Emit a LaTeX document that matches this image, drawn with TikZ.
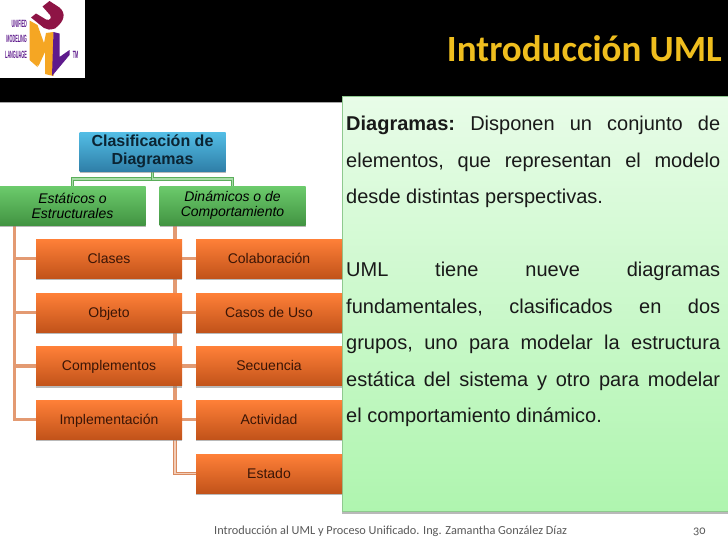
\documentclass[tikz,border=0pt]{standalone}
\usepackage{fontspec}
\usepackage{tikz}
\usetikzlibrary{backgrounds,shadows}
\setmainfont{Liberation Sans}
\newfontfamily\titlefont{Carlito}
\newfontfamily\footfont[Numbers=OldStyle]{Carlito}
\definecolor{tituloamarillo}{HTML}{EFBE1E}
\definecolor{conectornaranja}{HTML}{E39A72}
\definecolor{conectoroscuro}{HTML}{D98A5E}
\definecolor{conectorclaro}{HTML}{F2CDB8}
\definecolor{conectorverde}{HTML}{5AAE5A}
\definecolor{conectorvclaro}{HTML}{A8DCA8}
\definecolor{textoazul}{HTML}{0B2433}
\definecolor{textonaranja}{HTML}{3A1506}
\definecolor{azularriba}{HTML}{53BEE6}
\definecolor{azulabajo}{HTML}{2F7FA8}
\definecolor{verdearriba}{HTML}{6CCB6C}
\definecolor{verdeabajo}{HTML}{429442}
\definecolor{naranjaarriba}{HTML}{FF8038}
\definecolor{naranjaabajo}{HTML}{C2531A}
\definecolor{panelarriba}{HTML}{E8FCE8}
\definecolor{panelabajo}{HTML}{AFF5AF}
\definecolor{panelborde}{HTML}{8FC98F}
\definecolor{logonaranja}{HTML}{F5A623}
\definecolor{logovioleta}{HTML}{5E1A8C}
\definecolor{logogranate}{HTML}{8E1445}
\tikzset{
    caja/.style={rectangle, inner sep=0pt, minimum width=146pt, minimum height=39pt, align=center,
        drop shadow={shadow xshift=0pt, shadow yshift=-2pt, opacity=0.55}},
    cajaazul/.style={caja, top color=azularriba, bottom color=azulabajo, text=textoazul,
        font=\fontsize{16}{17.6}\selectfont\bfseries},
    cajaverde/.style={caja, top color=verdearriba, bottom color=verdeabajo, text=black,
        font=\fontsize{14}{15}\selectfont\itshape},
    cajanaranja/.style={caja, top color=naranjaarriba, bottom color=naranjaabajo, text=textonaranja,
        text height=11pt, text depth=2pt, font=\fontsize{14}{16}\selectfont},
    conector/.style={draw=conectornaranja, line width=3.6pt},
    conectordoble/.style={draw=conectoroscuro, line width=1pt, double=conectorclaro, double distance=1.6pt},
    conectorv/.style={draw=conectorverde, line width=1.1pt, double=conectorvclaro, double distance=1.4pt},
    logotexto/.style={inner sep=0pt, text=logovioleta, transform shape, xscale=0.38, yscale=1.05,
        font=\fontsize{10}{11}\selectfont\bfseries},
    pietexto/.style={anchor=base west, inner sep=0pt, text=black!65, font=\fontsize{12.3}{14}\selectfont\footfont},
}
\begin{document}
\begin{tikzpicture}[x=1pt,y=-1pt]
    \useasboundingbox (0,0) rectangle (728,546);
    \begin{pgfonlayer}{background}
        \fill[white] (0,0) rectangle (728,546);
    \end{pgfonlayer}

    % Cabecera
    \fill[black] (0,0) rectangle (728,102);
    \draw[gray!70, line width=0.6pt] (0,102.3) -- (342,102.3);
    \node[anchor=base east, inner sep=0pt, text=tituloamarillo, font=\fontsize{37}{40}\selectfont\titlefont\bfseries]
        (titulo) at (722,61) {Introducción UML};

    % Logo
    \fill[white] (0,0) rectangle (85,78);
    \fill[logonaranja] (29.5,20.5) -- (37.5,25) -- (44,43) -- (46,33) -- (53.5,32) -- (53.5,76) -- (45,74)
        -- (45,52) -- (38.5,66) -- (37.5,64) -- (37.5,67) -- (29.5,60) -- cycle;
    \fill[logovioleta] (53.5,32) -- (59.5,33.5) -- (59.5,57) -- (69.5,50) -- (69.5,55) -- (52,76) -- cycle;
    \fill[logogranate] (31,17.5) -- (36,13.5) -- (46,19.5) .. controls (50,21) and (52,18) .. (50,15)
        -- (42.5,6.5) -- (49.5,1) -- (59.5,7.5) .. controls (66,13) and (65,21) .. (55,28.5)
        .. controls (50,30) and (47,30) .. (44,28) -- cycle;
    \node[logotexto, anchor=east] (unified) at (27,24) {UNIFIED};
    \node[logotexto, anchor=east] (modeling) at (27,39) {MODELING};
    \node[logotexto, anchor=east] (language) at (27,55) {LANGUAGE};
    \node[logotexto, anchor=center] (marca) at (75.5,55) {TM};

    % Panel de texto
    \path[top color=panelarriba, bottom color=panelabajo, draw=panelborde, line width=0.5pt,
        drop shadow={shadow xshift=0pt, shadow yshift=-2.5pt, opacity=0.55}]
        (342,96.5) rectangle (729,511);
    \node[anchor=north west, inner sep=0pt, text width=374pt, align=justify, text=black!90,
        font=\fontsize{20}{36.5}\selectfont\frenchspacing] (texto) at (346,116) {%
        \textbf{Diagramas:} Disponen un conjunto de\linebreak
        elementos, que representan el modelo\linebreak
        desde distintas perspectivas.\par\vspace{36.5pt}
        UML tiene nueve diagramas\linebreak
        fundamentales, clasificados en dos\linebreak
        grupos, uno para modelar la estructura\linebreak
        estática del sistema y otro para modelar\linebreak
        el comportamiento dinámico.\par};

    % Clasificacion
    \node[cajaazul] (clasificacion) at (152.5,151.5) {Clasificación de\\Diagramas};
    \node[cajaverde] (estaticos) at (72.5,205.5) {Estáticos o\\Estructurales};
    \node[cajaverde] (dinamicos) at (232.5,205.5) {Dinámicos o de\\Comportamiento};

    % Estaticos
    \node[cajanaranja] (clases) at (109,258.5) {Clases};
    \node[cajanaranja] (objeto) at (109,312.5) {Objeto};
    \node[cajanaranja] (complementos) at (109,366) {Complementos};
    \node[cajanaranja] (implementacion) at (109,419.5) {Implementación};

    % Dinamicos
    \node[cajanaranja] (colaboracion) at (269,258.5) {Colaboración};
    \node[cajanaranja] (casos) at (269,312.5) {Casos de Uso};
    \node[cajanaranja] (secuencia) at (269,366) {Secuencia};
    \node[cajanaranja] (actividad) at (269,419.5) {Actividad};
    \node[cajanaranja] (estado) at (269,473.5) {Estado};

    % Conectores
    \coordinate (cruce) at (152.5,179);
    \coordinate (troncoe) at (14.5,225);
    \coordinate (troncod) at (175,225);
    \coordinate (troncof) at (175,439);
    \begin{pgfonlayer}{background}
        \draw[conectorv] (clasificacion.south) -- (cruce) -| (estaticos.north);
        \draw[conectorv] (clasificacion.south) -- (cruce) -| (dinamicos.north);
        \draw[conector] (troncoe) |- (clases.west);
        \draw[conector] (troncoe) |- (objeto.west);
        \draw[conector] (troncoe) |- (complementos.west);
        \draw[conector] (troncoe) |- (implementacion.west);
        \draw[conector] (troncod) |- (colaboracion.west);
        \draw[conector] (troncod) |- (casos.west);
        \draw[conector] (troncod) |- (secuencia.west);
        \draw[conector] (troncod) |- (actividad.west);
        \draw[conectordoble] (troncof) |- (estado.west);
    \end{pgfonlayer}

    % Pie
    \node[pietexto] (pie) at (214,534.5) {Introducción al UML y Proceso Unificado. Ing. Zamantha González Díaz};
    \node[pietexto] (pagina) at (693,534.5) {30};
\end{tikzpicture}
\end{document}
